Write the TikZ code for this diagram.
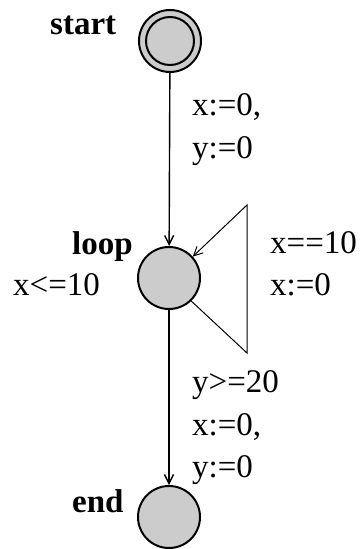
\documentclass[tikz,border=0pt]{standalone}
\usepackage{fontspec}
\setmainfont{Liberation Serif}
\usepackage{xcolor}
\usepackage{tikz}
\usetikzlibrary{arrows.meta,positioning,calc}

\begin{document}
\begin{tikzpicture}[x=1pt,y=-1pt,
  every node/.style={font=\fontsize{33}{38}\selectfont,inner sep=0pt},
  loc/.style={circle,draw,line width=2pt,fill=black!20,minimum size=62pt},
  locname/.style={font=\fontsize{33}{38}\selectfont\bfseries,anchor=base west},
  lab/.style={anchor=base west},
  edge/.style={line width=1.4pt,-{Straight Barb[length=9pt,width=9pt]}}]
  \useasboundingbox (0,0) rectangle (363,549);
  % locations
  \node[loc] (start) at (170,41){};
  \draw[line width=2pt] (start.center) circle (24);
  \node[loc] (loop) at (169,278){};
  \node[loc] (finish) at (169,517){};
  \node[locname] (startname) at (50,34){start};
  \node[locname] (loopname) at (72,254){loop};
  \node[locname] (finishname) at (72,512){end};
  \node[lab] (inv) at (13,295){x<=10};
  % edges
  \draw[edge] (start) -- (loop);
  \draw[edge] (loop) -- (finish);
  \coordinate (lb) at (247,353);
  \coordinate (lt) at (247,205);
  \draw[edge,line width=1pt] (loop.-46) -- (lb) -- (lt) -- (loop.42);
  \node[lab] (upd1) at (192,115){x:=0,};
  \node[lab] (upd2) at (192,158){y:=0};
  \node[lab] (guard2) at (270,253){x==10};
  \node[lab] (upd3) at (270,295){x:=0};
  \node[lab] (guard3) at (192,392){y>=20};
  \node[lab] (upd4) at (192,435){x:=0,};
  \node[lab] (upd5) at (192,477){y:=0};
\end{tikzpicture}
\end{document}
